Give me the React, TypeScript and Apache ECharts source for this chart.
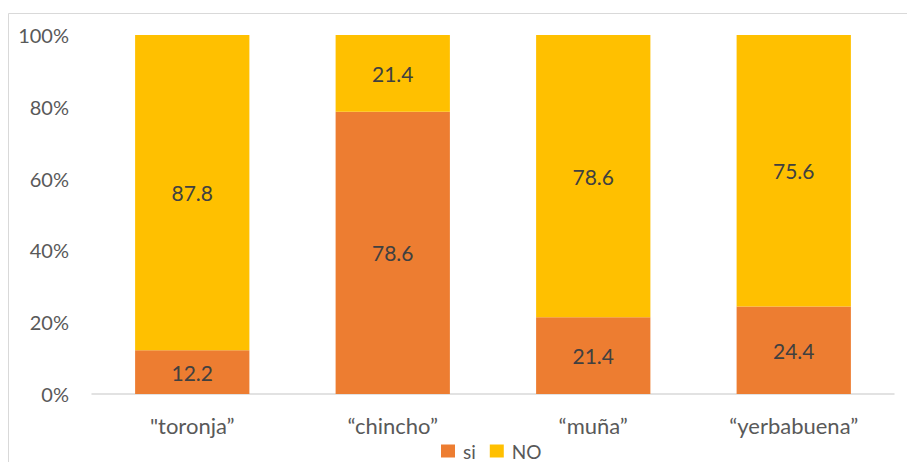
import React, { useEffect, useRef } from "react";
import * as echarts from "echarts";

const categories = ['"toronja\u201d', "\u201cchincho\u201d", "\u201cmu\u00f1a\u201d", "\u201cyerbabuena\u201d"];
const siValues = [12.2, 78.6, 21.4, 24.4];
const noValues = [87.8, 21.4, 78.6, 75.6];

const FONT = "Lato, 'Open Sans', sans-serif";

export default function App() {
  const ref = useRef<HTMLDivElement>(null);

  useEffect(() => {
    if (!ref.current) return;
    const chart = echarts.init(ref.current, null, { renderer: "svg" });
    const label = {
      show: true,
      position: "inside",
      color: "#404040",
      fontSize: 21,
      fontFamily: FONT,
      formatter: (p: any) => p.value.toFixed(1),
    };
    chart.setOption({
      animation: false,
      textStyle: { fontFamily: FONT },
      graphic: [
        {
          type: "rect",
          shape: { x: 8.5, y: 13.5, width: 910, height: 460 },
          style: { fill: "none", stroke: "#d9d9d9", lineWidth: 1 },
          silent: true,
        },
      ],
      grid: { left: 92, right: 13, top: 35, bottom: 68 },
      legend: {
        left: 441,
        top: 441,
        padding: 0,
        itemWidth: 14,
        itemHeight: 13,
        itemGap: 14,
        icon: "rect",
        textStyle: {
          color: "#595959",
          fontSize: 19,
          lineHeight: 20,
          fontFamily: FONT,
          padding: [0, 0, 0, 3],
        },
        data: ["si", "NO"],
      },
      xAxis: {
        type: "category",
        data: categories,
        axisLine: { lineStyle: { color: "#d9d9d9", width: 1.5 } },
        axisTick: { show: false },
        axisLabel: { color: "#595959", fontSize: 22, fontFamily: FONT, margin: 20 },
      },
      yAxis: {
        type: "value",
        min: 0,
        max: 100,
        interval: 20,
        axisLine: { show: false },
        axisTick: { show: false },
        splitLine: { show: false },
        axisLabel: { color: "#595959", fontSize: 20, fontFamily: FONT, margin: 23, formatter: "{value}%" },
      },
      series: [
        {
          name: "si",
          type: "bar",
          stack: "total",
          data: siValues,
          barWidth: "57%",
          itemStyle: { color: "#ED7D31" },
          label,
        },
        {
          name: "NO",
          type: "bar",
          stack: "total",
          data: noValues,
          barWidth: "57%",
          itemStyle: { color: "#FFC000" },
          label,
        },
      ],
    });
    return () => chart.dispose();
  }, []);

  return (
    <div
      ref={ref}
      style={{ position: "fixed", left: 0, top: 0, width: 907, height: 462, background: "#fff" }}
    />
  );
}
